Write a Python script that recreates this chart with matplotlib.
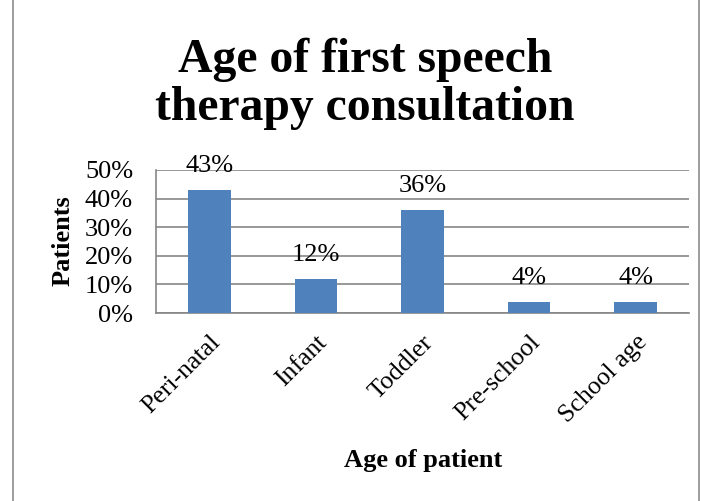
import matplotlib
matplotlib.use("Agg")
import matplotlib.pyplot as plt
from matplotlib.patches import Rectangle

categories = ["Peri-natal", "Infant", "Toddler", "Pre-school", "School age"]
values = [43, 12, 36, 4, 4]
yticks = [0, 10, 20, 30, 40, 50]
ytick_labels = ["0%", "10%", "20%", "30%", "40%", "50%"]
title_lines = ["Age of first speech", "therapy consultation"]

plt.rcParams['font.family'] = ['Liberation Serif', 'DejaVu Serif']

W, H = 707, 501
fig = plt.figure(figsize=(W / 100, H / 100), dpi=100)
fig.patch.set_facecolor('white')

def fx(px):
    return px / W

def fy(py):
    return 1 - py / H

# figure border
fig.add_artist(Rectangle((fx(13), -0.01), (699 - 13) / W, 1.02, transform=fig.transFigure,
                         fill=False, edgecolor='#8c8c8c', linewidth=1.2))

left, right, top, bottom = 156, 689, 170, 313
ax = fig.add_axes([fx(left), fy(bottom), (right - left) / W, (bottom - top) / H])

x = list(range(len(categories)))
ax.bar(x, values, width=0.4, color='#4f81bd', zorder=3)
ax.set_xlim(-0.5, len(categories) - 0.5)
ax.set_ylim(0, 50)
ax.set_yticks(yticks)
ax.set_yticklabels(ytick_labels, fontsize=19)
ax.set_xticks(x)
ax.set_xticklabels(categories, fontsize=18.5, rotation=45, ha='right', rotation_mode='anchor')
ax.tick_params(axis='x', length=0, pad=13)
ax.tick_params(axis='y', length=0, pad=16.5)
ax.grid(axis='y', color='#868686', linewidth=1.2, zorder=0)
for s in ['top', 'right']:
    ax.spines[s].set_visible(False)
for s in ['left', 'bottom']:
    ax.spines[s].set_color('#868686')
    ax.spines[s].set_linewidth(1.2)

for xi, v in zip(x, values):
    ax.annotate(f"{v}%", (xi, v), xytext=(0, 13), textcoords='offset points',
                ha='center', va='baseline', fontsize=19)

fig.text(fx(63), fy(241), "Patients", fontsize=19, fontweight='bold', rotation=90,
         ha='center', va='center')
fig.text(fx(423), fy(467), "Age of patient", fontsize=19, fontweight='bold',
         ha='center', va='baseline')

fig.text(fx(365), fy(72), title_lines[0], fontsize=34.3, fontweight='bold', ha='center',
         va='baseline')
fig.text(fx(365), fy(120), title_lines[1], fontsize=34.3, fontweight='bold', ha='center',
         va='baseline')

fig.savefig("out.png", dpi=100, facecolor='white')
